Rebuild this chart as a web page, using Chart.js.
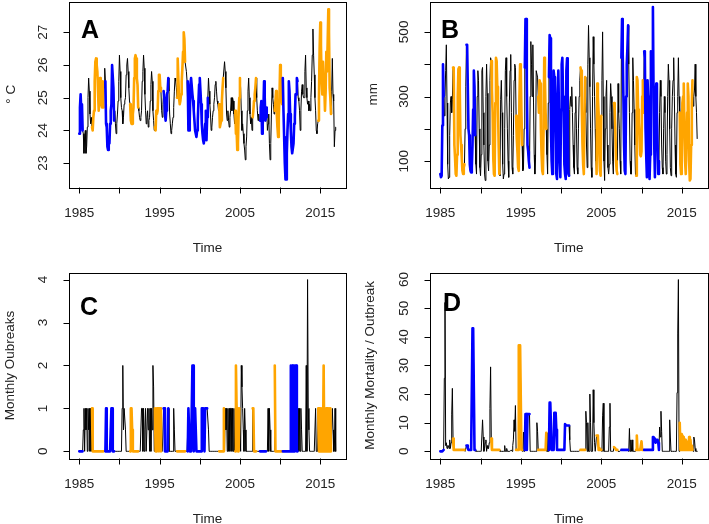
<!DOCTYPE html>
<html>
<head>
<meta charset="utf-8">
<script src="https://cdn.jsdelivr.net/npm/chart.js@4.4.0/dist/chart.umd.min.js"></script>
<style>
  html, body { margin: 0; padding: 0; background: #fff; }
  #wrap { position: relative; width: 709px; height: 524px; overflow: hidden; }
  canvas { position: absolute; }
</style>
</head>
<body>
<div id="wrap">
  <canvas id="cA" width="354" height="262" style="left:0px;top:0px"></canvas>
  <canvas id="cB" width="355" height="262" style="left:354px;top:0px"></canvas>
  <canvas id="cC" width="354" height="262" style="left:0px;top:262px"></canvas>
  <canvas id="cD" width="355" height="262" style="left:354px;top:262px"></canvas>
</div>
<script>
// serie mensual desde enero 1985
const startYear = 1985;

// fase ENSO por mes (L = La Niña, E = El Niño, N = neutral), una fila por año
const ensoPhase = [
  'LLLLLLNNNNNN', 'NNNNNNNEEEEE', 'EEEEEEEEEEEE', 'ENNLLLLLLLLL', // 1985-88
  'LLLLLNNNNNNN', 'NNNNNNNNNNNN', 'NNNNEEEEEEEE', 'EEEEENNNNNNN', // 1989-92
  'NNNNNNNNNNNN', 'NNNNNEEEEEEE', 'EEENNNLLLLLL', 'LLNNNNNNNNNN', // 1993-96
  'NNEEEEEEEEEE', 'EEENNNLLLLLL', 'LLLLLLLLLLLL', 'LLLLLLLLLLLL', // 1997-00
  'LNNNNNNNNNNN', 'NNNNNEEEEEEE', 'ENNNNNNNNNNN', 'NNNNNEEEEEEE', // 2001-04
  'ENNNNNNNNNNN', 'NNNNNNNEEEEE', 'ENNNNNLLLLLL', 'LLLLLNNNNNNN', // 2005-08
  'NNNNEEEEEEEE', 'EEEELLLLLLLL', 'LLLLLLLLLLLL', 'LLLNNNNNNNNN', // 2009-12
  'NNNNNNNNNNNN', 'NNNNNNNNNEEE', 'EEEEEEEEEEEE', 'EEEEENNNNNNN'  // 2013-16
];

// A: temperatura (°C)
const tempA = [
  [23.9, 24.7, 25.1, 24.6, 24.8, 24.0, 23.9, 23.3, 23.8, 24.0, 23.3, 23.5],
  [24.1, 25.0, 25.6, 25.2, 24.5, 24.2, 24.4, 24.1, 24.0, 24.4, 24.6, 25.5],
  [26.1, 26.2, 26.0, 25.8, 25.2, 24.6, 24.9, 25.6, 25.4, 24.8, 24.7, 25.5],
  [24.7, 25.3, 25.9, 25.5, 24.2, 24.1, 23.5, 23.4, 23.7, 23.6, 24.2, 24.6],
  [24.8, 26.0, 26.0, 25.3, 24.3, 24.6, 24.2, 23.9, 24.2, 24.5, 24.9, 25.5],
  [26.3, 25.8, 25.0, 24.7, 24.6, 24.2, 24.4, 24.8, 24.9, 25.0, 25.7, 26.0],
  [26.2, 25.8, 25.3, 24.9, 24.8, 24.3, 24.2, 24.2, 24.5, 24.7, 25.6, 26.2],
  [26.3, 26.2, 25.6, 25.4, 24.7, 24.6, 24.4, 24.3, 24.4, 24.6, 25.5, 25.8],
  [26.3, 25.9, 25.1, 24.6, 24.2, 24.4, 24.6, 24.1, 24.3, 24.4, 24.9, 25.4],
  [25.8, 25.5, 24.6, 24.3, 24.0, 24.1, 24.0, 24.6, 24.5, 24.6, 25.2, 25.7],
  [25.7, 25.3, 25.2, 24.6, 24.4, 24.8, 25.2, 25.0, 24.5, 24.3, 24.6, 25.1],
  [25.2, 25.6, 25.2, 24.5, 24.2, 23.9, 24.0, 24.2, 24.4, 24.7, 25.2, 25.6],
  [25.5, 25.3, 25.0, 26.2, 25.6, 25.0, 24.8, 24.9, 25.1, 25.5, 25.9, 26.4],
  [27.0, 26.8, 26.1, 26.1, 25.8, 25.5, 25.5, 24.0, 24.0, 24.3, 25.4, 25.6],
  [25.6, 25.1, 24.9, 24.6, 24.3, 24.0, 23.9, 23.8, 24.0, 24.3, 24.9, 25.4],
  [25.6, 25.2, 24.8, 24.2, 23.9, 23.7, 23.6, 23.8, 24.2, 24.6, 23.7, 24.4],
  [25.0, 25.6, 25.2, 24.8, 24.5, 24.0, 24.1, 24.4, 24.6, 24.8, 25.0, 25.4],
  [25.5, 25.2, 24.9, 24.8, 24.6, 24.8, 24.1, 24.2, 24.3, 24.9, 25.3, 25.6],
  [25.6, 26.1, 25.8, 25.3, 24.5, 24.3, 24.6, 24.3, 24.1, 24.4, 24.6, 25.0],
  [24.6, 25.0, 24.9, 24.5, 24.2, 24.6, 23.9, 24.0, 23.4, 23.6, 24.5, 25.0],
  [25.6, 25.3, 24.6, 24.0, 24.2, 23.9, 23.6, 23.4, 23.1, 23.5, 23.8, 24.6],
  [25.2, 25.6, 25.0, 24.5, 24.2, 24.4, 24.0, 24.4, 24.6, 24.9, 25.1, 25.3],
  [25.6, 25.0, 24.6, 24.3, 24.5, 24.3, 24.3, 24.7, 24.9, 23.9, 24.2, 24.6],
  [25.5, 25.0, 24.3, 24.4, 24.7, 24.0, 24.2, 24.5, 23.6, 23.1, 23.6, 24.5],
  [25.3, 25.0, 24.8, 24.5, 24.6, 24.9, 25.2, 24.5, 24.1, 23.8, 24.4, 25.0],
  [26.0, 25.6, 25.0, 24.8, 25.6, 24.6, 23.8, 23.0, 22.5, 22.5, 23.3, 24.0],
  [24.5, 25.5, 25.2, 24.5, 24.0, 23.5, 23.3, 23.3, 23.6, 24.2, 24.4, 25.1],
  [25.1, 25.6, 25.5, 25.0, 24.9, 24.6, 24.0, 24.6, 25.2, 25.4, 25.1, 25.0],
  [25.0, 25.8, 26.3, 25.3, 25.0, 24.8, 24.9, 24.6, 24.8, 24.6, 25.0, 25.5],
  [26.3, 27.1, 26.3, 25.7, 25.0, 24.6, 24.0, 23.9, 24.2, 24.3, 25.0, 26.5],
  [27.3, 26.6, 25.5, 25.1, 26.1, 25.5, 25.3, 24.6, 25.2, 26.4, 25.8, 26.7],
  [27.7, 27.0, 25.3, 25.0, 24.5, 25.2, 26.2, 25.1, 24.9, 23.5, 24.0, 24.1]
];

// B: precipitación (mm)
const rainB = [
  [60, 50, 55, 210, 400, 300, 240, 300, 380, 460, 280, 90],
  [45, 50, 180, 280, 300, 250, 290, 390, 380, 150, 110, 60],
  [55, 120, 300, 385, 390, 320, 180, 150, 110, 70, 60, 80],
  [90, 200, 330, 460, 460, 460, 200, 180, 90, 70, 65, 80],
  [150, 260, 380, 330, 180, 90, 60, 300, 380, 350, 200, 80],
  [55, 120, 380, 390, 250, 150, 60, 40, 300, 400, 310, 100],
  [70, 150, 350, 420, 410, 320, 250, 110, 60, 55, 280, 420],
  [410, 330, 270, 150, 60, 55, 290, 350, 250, 90, 45, 60],
  [200, 380, 420, 300, 200, 100, 50, 280, 380, 430, 250, 80],
  [60, 180, 350, 400, 390, 240, 170, 130, 80, 70, 300, 400],
  [380, 250, 150, 70, 75, 200, 390, 540, 540, 340, 150, 130],
  [100, 80, 300, 470, 400, 300, 460, 280, 120, 60, 110, 380],
  [380, 360, 300, 250, 350, 340, 200, 120, 70, 60, 200, 420],
  [350, 250, 200, 120, 60, 280, 360, 490, 480, 200, 100, 60],
  [150, 380, 360, 340, 200, 60, 45, 300, 380, 250, 100, 50],
  [260, 400, 420, 300, 250, 90, 60, 45, 380, 418, 200, 60],
  [55, 260, 300, 270, 330, 250, 150, 80, 60, 250, 300, 200],
  [80, 60, 200, 300, 350, 390, 380, 260, 150, 90, 60, 250],
  [360, 250, 150, 80, 400, 520, 420, 330, 200, 80, 50, 300],
  [485, 400, 300, 200, 100, 60, 340, 300, 250, 130, 70, 55],
  [240, 350, 500, 300, 100, 40, 200, 300, 350, 150, 80, 60],
  [90, 250, 340, 300, 200, 100, 60, 280, 260, 200, 100, 70],
  [60, 340, 250, 200, 100, 60, 420, 540, 430, 300, 150, 70],
  [60, 300, 400, 450, 520, 400, 250, 100, 60, 60, 250, 420],
  [350, 260, 150, 60, 55, 360, 350, 260, 220, 180, 120, 115],
  [130, 300, 350, 250, 440, 420, 200, 120, 50, 350, 300, 80],
  [45, 120, 440, 400, 350, 577, 300, 150, 50, 300, 340, 250],
  [150, 60, 100, 250, 350, 300, 150, 80, 60, 200, 300, 250],
  [100, 60, 120, 300, 400, 350, 200, 80, 55, 200, 300, 350],
  [420, 300, 150, 60, 50, 250, 300, 420, 300, 250, 90, 60],
  [100, 280, 300, 340, 200, 100, 60, 150, 250, 340, 300, 100],
  [40, 45, 150, 280, 350, 270, 300, 320, 400, 300, 250, 170]
];

// C: brotes por mes
const outbreaksC = [
  [0, 0, 0, 0, 0, 0, 0.5, 1, 0, 1, 0.5, 1],
  [0, 1, 0.5, 1, 0, 1, 0, 1, 0, 0, 0, 0],
  [0, 0, 0, 0, 0, 0, 0, 0, 0, 0, 0, 0],
  [0, 0, 0, 0, 1, 0, 0, 0, 0, 0, 0, 0],
  [1, 1, 0, 0, 0, 0, 0, 0, 0, 0, 0, 0],
  [0, 0, 0, 0, 1, 2, 0.5, 1, 1, 0.5, 0, 0],
  [0, 0, 0, 0, 0, 1, 1, 0.5, 0, 0, 0, 0],
  [0, 0, 0, 0, 0, 0, 0, 0, 0, 1, 1, 0],
  [1, 0, 0.5, 1, 0, 0, 1, 0.5, 1, 0, 1, 0],
  [1, 0.5, 2, 1.5, 0, 1, 0, 0, 1, 1, 1, 0],
  [1, 1, 0, 0, 0, 0, 1, 1, 0, 0, 0, 0],
  [0, 1, 0, 0, 0, 0, 0, 0, 0, 1, 0.5, 0],
  [0, 0, 0, 0, 0, 0, 0, 0, 0, 0, 0, 0],
  [0, 0, 0, 0, 0, 0, 0, 1, 0.5, 0, 0, 0],
  [0, 2, 2, 0, 1, 1, 1, 0, 0, 0, 0, 0],
  [0, 0, 0, 1, 1, 1, 1, 0, 1, 1, 1, 1],
  [1, 0.5, 0, 0, 0, 0, 0, 0, 0, 0, 0, 0],
  [0, 0, 0, 0, 0, 0, 0, 0, 0, 0, 0, 0],
  [1, 0, 1, 0.5, 1, 0, 1, 0, 1, 0, 1, 1],
  [0, 1, 0, 1, 0, 0, 2, 1, 1, 0, 0, 1],
  [1, 0, 2, 1.5, 1, 0.5, 0, 1, 0.5, 0, 0, 0],
  [0, 0, 0, 0, 0, 0, 0, 1, 1, 0, 0, 0],
  [0, 0, 0, 0, 0, 0, 0, 0, 0, 0, 0, 0],
  [0, 0, 0, 0, 0, 0, 1, 0, 1, 0.5, 0, 0],
  [0, 0, 0, 0, 2, 0, 0, 0, 0, 0, 0, 0],
  [0, 0, 0, 0, 0, 0, 0, 0, 0, 0, 0, 0],
  [0, 0, 0, 0, 2, 0, 2, 0, 2, 0, 2, 2],
  [2, 0, 0, 1, 0, 1, 0, 1, 0.5, 0, 0, 0],
  [0, 0, 0, 2, 0, 4, 1, 0.5, 0, 0, 0, 0],
  [0, 0, 0, 0, 0, 1, 0, 0, 0, 1, 0, 1],
  [0, 1, 0, 1, 0, 2, 0, 1, 0, 1, 0, 1],
  [0, 1, 0, 1, 0, 0, 1, 0.5, 0, 0, 1, 0]
];

// D: mortalidad mensual / brote
const mortalityD = [
  [0, 0, 0, 0, 0, 0.5, 25.5, 52, 2, 3, 1, 2],
  [2, 1, 4, 1, 3, 13, 22, 4.5, 0.5, 0.5, 0.5, 0.5],
  [0.5, 0.5, 0.5, 0.5, 0.5, 0.5, 0.5, 0.5, 0.5, 0.5, 0.5, 0.5],
  [0.5, 0, 0, 2, 2, 1, 0.5, 0.5, 0.5, 0.5, 0.5, 0.5],
  [43, 43, 43, 0.5, 0.5, 0, 0, 0, 0, 0, 0, 0],
  [0, 0, 0, 11, 5, 0, 1, 3, 4, 0, 2, 1],
  [1, 3, 15, 29.5, 4.5, 0.5, 0.5, 0.5, 0.5, 0.5, 0.5, 0.5],
  [0.5, 0.5, 0.5, 0.5, 0.5, 0, 0, 0, 0, 0, 0, 0],
  [2, 0, 0, 1, 0, 0, 0, 0, 0, 0, 0.5, 0],
  [2, 4, 11, 7, 16, 0.5, 0.5, 0.5, 0.5, 37, 37, 37],
  [37, 0.5, 0.5, 0, 6.7, 0, 0.5, 13, 13, 0.5, 13, 13],
  [13, 13, 0, 0, 0, 0, 0, 0, 0, 0, 0, 0],
  [10, 7, 0.5, 0.5, 0.5, 0.5, 0.5, 0.5, 0.5, 0.5, 0.5, 0.5],
  [0.5, 0.5, 6.5, 0, 0, 0, 0.5, 17, 17, 17, 0.5, 0.5],
  [0.5, 0.5, 13.5, 13.5, 13.5, 7.5, 0.5, 0.5, 0.5, 0.5, 0.5, 0.5],
  [0.5, 0.5, 0.5, 0.5, 0.5, 0.5, 9.5, 9.5, 9, 9, 9, 9],
  [9, 4, 0, 0, 0, 0, 0, 0, 0, 0, 0, 0],
  [0, 0, 0, 0, 0, 0.5, 0.5, 0.5, 0.5, 0.5, 0.5, 0.5],
  [0.5, 14, 10, 0, 10, 0, 0, 20, 10, 0, 0, 0],
  [21.5, 10, 3, 0, 0, 5.5, 5.5, 5, 0.5, 0.5, 1, 0.5],
  [0.5, 0, 12.4, 16.8, 0, 0, 0, 0, 0, 0, 0, 0],
  [8.5, 16.8, 0, 0, 0, 0, 0, 1.5, 1.5, 1, 0.5, 0.5],
  [0.5, 0, 0, 0, 0, 0, 0.5, 0.5, 0.5, 0.5, 0.5, 0.5],
  [0.5, 0.5, 0.5, 0.5, 0.5, 0, 8, 0, 4, 0, 4, 0],
  [0, 0, 0, 0, 0.5, 5.5, 0.5, 0.5, 0.5, 0.5, 0.5, 0.5],
  [3.5, 0.5, 0.5, 0.5, 0.5, 0.5, 0.5, 0.5, 0.5, 0.5, 0.5, 0.5],
  [0.5, 0.5, 0.5, 0.5, 0.5, 5, 5, 4.5, 4, 3, 3.5, 4],
  [4, 3, 0.5, 8.5, 5, 14, 7, 0, 0, 0, 0, 0],
  [0, 0, 0, 0, 0, 0, 11, 5, 0, 0, 0, 0],
  [0, 0, 0, 0, 0, 20.5, 41, 60, 0, 10, 0.5, 6],
  [0.5, 5.5, 0.5, 5, 0.5, 4, 0.5, 3.5, 0.5, 3, 0.5, 5],
  [0.5, 4, 0.5, 2, 0.5, 0, 5, 4, 1, 0, 0, 0]
];

// ejes
const xTickYears = [1985, 1990, 1995, 2000, 2005, 2010, 2015];
const xLabelYears = [1985, 1995, 2005, 2015];
const yTicksA = [23, 24, 25, 26, 27];
const yLabelsA = [23, 24, 25, 26, 27];
const yTicksB = [100, 200, 300, 400, 500];
const yLabelsB = [100, 300, 500];
const yTicksC = [0, 1, 2, 3, 4];
const yLabelsC = [0, 1, 2, 3, 4];
const yTicksD = [0, 10, 20, 30, 40, 50, 60];
const yLabelsD = [0, 10, 20, 30, 40, 50, 60];

const FONT = "'Liberation Sans', Arial, Helvetica, sans-serif";
const TXT = '#222';
const phase = ensoPhase.join('').split('');

// marco estilo R: caja, marcas, etiquetas y títulos
const rFrame = {
  id: 'rframe',
  afterDraw(chart, args, o) {
    const ctx = chart.ctx;
    const a = chart.chartArea;
    const xs = chart.scales.x, ys = chart.scales.y;
    ctx.save();
    ctx.strokeStyle = '#000';
    ctx.lineWidth = 1;
    ctx.strokeRect(Math.round(a.left) + 0.5, Math.round(a.top) + 0.5,
                   Math.round(a.right - a.left), Math.round(a.bottom - a.top));
    const bot = Math.round(a.bottom) + 0.5;
    const lft = Math.round(a.left) + 0.5;
    ctx.beginPath();
    xTickYears.forEach(v => {
      const px = Math.round(xs.getPixelForValue(v)) + 0.5;
      ctx.moveTo(px, bot); ctx.lineTo(px, bot + 6);
    });
    o.yTicks.forEach(v => {
      const py = Math.round(ys.getPixelForValue(v)) + 0.5;
      ctx.moveTo(lft, py); ctx.lineTo(lft - 6, py);
    });
    ctx.stroke();

    ctx.fillStyle = TXT;
    ctx.font = '13.5px ' + FONT;
    ctx.textAlign = 'center';
    ctx.textBaseline = 'middle';
    xLabelYears.forEach(v => ctx.fillText(String(v), xs.getPixelForValue(v), a.bottom + 26));
    ctx.fillText('Time', (a.left + a.right) / 2, a.bottom + 61);
    o.yLabels.forEach(v => {
      ctx.save();
      ctx.translate(a.left - 26, ys.getPixelForValue(v));
      ctx.rotate(-Math.PI / 2);
      ctx.fillText(String(v), 0, 0);
      ctx.restore();
    });
    ctx.save();
    ctx.translate(o.yTitleX, (a.top + a.bottom) / 2);
    ctx.rotate(-Math.PI / 2);
    ctx.fillText(o.yTitle, 0, 0);
    ctx.restore();

    ctx.fillStyle = '#000';
    ctx.font = 'bold 25px ' + FONT;
    ctx.textAlign = 'left';
    ctx.textBaseline = 'alphabetic';
    ctx.fillText(o.letter, o.letterX, o.letterY);
    ctx.restore();
  }
};

function points(rows, keep) {
  return rows.flat().map((v, i) => ({ x: startYear + i / 12, y: keep(i) ? v : null }));
}

function makePanel(id, rows, cfg) {
  const lineBase = { pointRadius: 0, tension: 0, spanGaps: false, fill: false,
                     borderCapStyle: 'round', borderJoinStyle: 'round' };
  return new Chart(document.getElementById(id), {
    type: 'line',
    data: {
      datasets: [
        Object.assign({ data: points(rows, i => phase[i] === 'L'), borderColor: '#0000ff', borderWidth: 2.6, order: 1 }, lineBase),
        Object.assign({ data: points(rows, i => phase[i] === 'E'), borderColor: '#ffa500', borderWidth: 2.6, order: 1 }, lineBase),
        Object.assign({ data: points(rows, i => true), borderColor: '#000', borderWidth: 1, order: 2 }, lineBase)
      ]
    },
    options: {
      responsive: false,
      animation: false,
      devicePixelRatio: 1,
      parsing: false,
      layout: { padding: cfg.pad },
      scales: {
        x: { type: 'linear', display: false, min: 1983.72, max: 2018.2 },
        y: { type: 'linear', display: false, min: cfg.ymin, max: cfg.ymax }
      },
      plugins: {
        legend: { display: false },
        tooltip: { enabled: false },
        rframe: cfg.frame
      }
    },
    plugins: [rFrame]
  });
}

makePanel('cA', tempA, {
  pad: { left: 69, top: 1.5, right: 8, bottom: 75 }, ymin: 22.27, ymax: 27.94,
  frame: { yTicks: yTicksA, yLabels: yLabelsA, yTitle: '° C', yTitleX: 11, letter: 'A', letterX: 81, letterY: 38 }
});
makePanel('cB', rainB, {
  pad: { left: 76, top: 1.5, right: 1.5, bottom: 75 }, ymin: 20, ymax: 594,
  frame: { yTicks: yTicksB, yLabels: yLabelsB, yTitle: 'mm', yTitleX: 19, letter: 'B', letterX: 87, letterY: 38 }
});
makePanel('cC', outbreaksC, {
  pad: { left: 69, top: 10.7, right: 8, bottom: 65.8 }, ymin: -0.16, ymax: 4.16,
  frame: { yTicks: yTicksC, yLabels: yLabelsC, yTitle: 'Monthly Oubreaks', yTitleX: 10, letter: 'C', letterX: 80, letterY: 53 }
});
makePanel('cD', mortalityD, {
  pad: { left: 76, top: 10.7, right: 1.5, bottom: 65.8 }, ymin: -2.4, ymax: 62.4,
  frame: { yTicks: yTicksD, yLabels: yLabelsD, yTitle: 'Monthly Mortality / Outbreak', yTitleX: 16, letter: 'D', letterX: 89, letterY: 49 }
});
</script>
</body>
</html>
